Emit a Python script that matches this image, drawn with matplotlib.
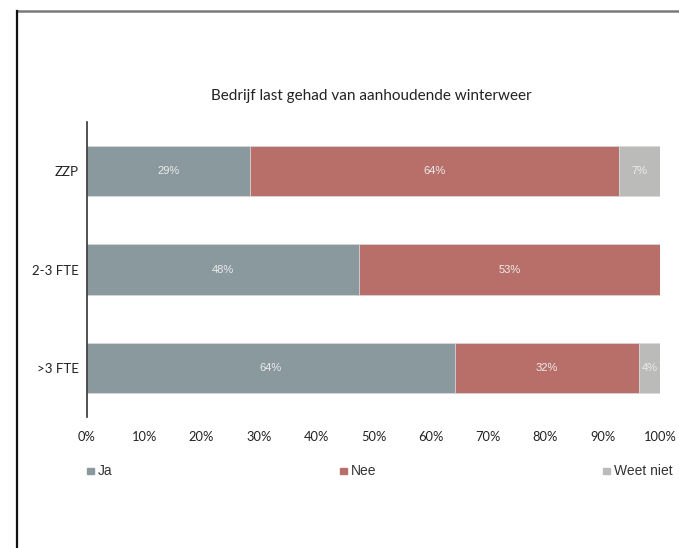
import numpy as np
import matplotlib.pyplot as plt
from matplotlib.lines import Line2D
from matplotlib.patches import Rectangle

# data (percent of respondents)
categories = ['>3 FTE', '2-3 FTE', 'ZZP']
series = ['Ja', 'Nee', 'Weet niet']
ja = [64.2, 47.5, 28.4]
nee = [32.1, 52.5, 64.5]
weet_niet = [3.7, 0.0, 7.1]
ja_labels = ['64%', '48%', '29%']
nee_labels = ['32%', '53%', '64%']
weet_niet_labels = ['4%', '', '7%']
xticks = [0, 10, 20, 30, 40, 50, 60, 70, 80, 90, 100]

colors = ['#8a999e', '#b86f69', '#bbbcba']
title_font = 'Lato'
label_font = 'Liberation Sans'

fig = plt.figure(figsize=(6.79, 5.48), dpi=100)
ax = fig.add_axes([0.1281, 0.239, 0.8439, 0.5384])

y = np.arange(len(categories))
left = np.zeros(len(categories))
for vals, labs, col in zip([ja, nee, weet_niet],
                           [ja_labels, nee_labels, weet_niet_labels], colors):
    vals = np.array(vals)
    bars = ax.barh(y, vals, left=left, height=0.51, color=col,
                   edgecolor='#d9d9d9', linewidth=0.5)
    for b, v, lab in zip(bars, vals, labs):
        if v > 0 and lab:
            ax.text(b.get_x() + b.get_width() / 2, b.get_y() + b.get_height() / 2,
                    lab, ha='center', va='center', color='#ececec',
                    fontsize=8, family=label_font)
    left += vals

ax.set_xlim(0, 100)
ax.set_ylim(-0.5, 2.5)
ax.set_yticks(y)
ax.set_yticklabels(categories, family=title_font, fontsize=9.5, color='#222222')
ax.set_xticks(xticks)
ax.set_xticklabels([f'{t}%' for t in xticks], family=title_font, fontsize=9.3,
                   color='#222222')
ax.tick_params(axis='both', length=0)
ax.tick_params(axis='x', pad=10)
ax.tick_params(axis='y', pad=6)
for s in ['top', 'right', 'bottom']:
    ax.spines[s].set_visible(False)
ax.spines['left'].set_color('#333333')
ax.spines['left'].set_linewidth(1.2)

fig.text(0.547, 0.825, 'Bedrijf last gehad van aanhoudende winterweer',
         ha='center', va='center', fontsize=11, family=title_font, color='#222222')

# legend laid out across the width
legend_x = [0.1285, 0.5007, 0.888]
for name, col, lx in zip(series, colors, legend_x):
    fig.patches.append(Rectangle((lx, 0.135), 0.0103, 0.0115, color=col,
                                 transform=fig.transFigure, figure=fig))
    fig.text(lx + 0.016, 0.1405, name, ha='left', va='center', fontsize=10,
             family=label_font, color='#333333')

# page frame
fig.add_artist(Line2D([0.0246, 1.0], [0.98, 0.98], color='#7a7a7a', lw=1.8,
                      transform=fig.transFigure))
fig.add_artist(Line2D([0.0246, 0.0246], [0.0, 0.98], color='#111111', lw=1.6,
                      transform=fig.transFigure))

fig.savefig('out.png', dpi=100)
